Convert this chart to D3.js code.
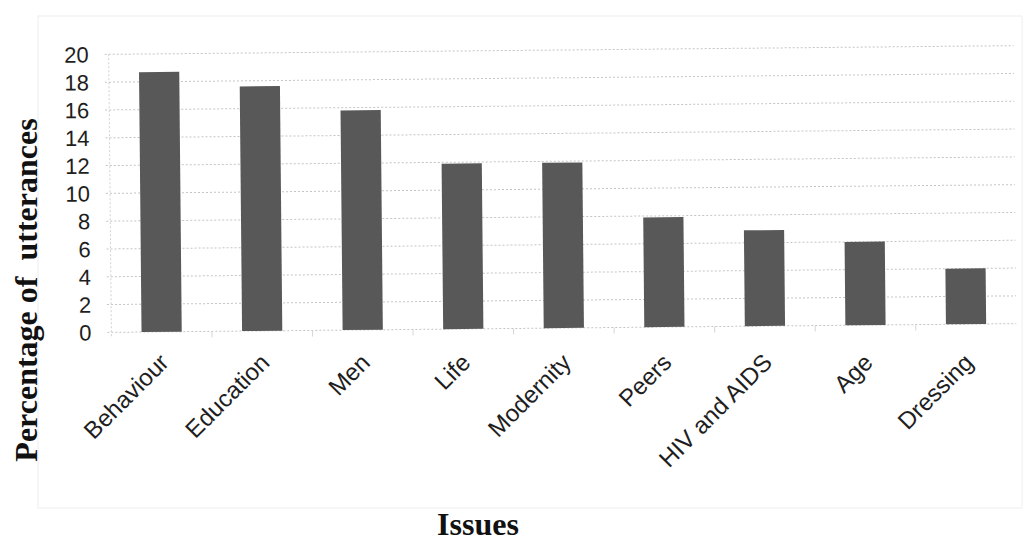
<!DOCTYPE html>
<html>
<head>
<meta charset="utf-8">
<script src="https://cdn.jsdelivr.net/npm/d3@7"></script>
<style>
  html, body { margin: 0; padding: 0; background: #fff; }
  svg { display: block; }
</style>
</head>
<body>
<svg id="chart" width="1030" height="549"></svg>
<script>
// Share of utterances by issue
const issues = ["Behaviour", "Education", "Men", "Life", "Modernity", "Peers", "HIV and AIDS", "Age", "Dressing"];
const percentages = [18.7, 17.6, 15.8, 11.9, 11.9, 7.9, 6.9, 6.0, 4.0];
const yTicks = [0, 2, 4, 6, 8, 10, 12, 14, 16, 18, 20];

const svg = d3.select("#chart");
const W = 1030, H = 549;
const plot = { left: 110, right: 1015, top: 50, bottom: 328 };

svg.append("rect").attr("width", W).attr("height", H).attr("fill", "#fff");

// faint chart-area frame
svg.append("rect")
  .attr("x", 38).attr("y", 16).attr("width", 984).attr("height", 492)
  .attr("fill", "none").attr("stroke", "#eeeeee").attr("stroke-width", 1);

const x = d3.scaleBand().domain(issues).range([plot.left, plot.right]).paddingInner(0.6).paddingOuter(0.3);
const y = d3.scaleLinear().domain([0, 20]).range([plot.bottom, plot.top]);

// the plot sits slightly askew on the page
const g = svg.append("g")
  .attr("transform", `rotate(-0.55, ${(plot.left + plot.right) / 2}, ${(plot.top + plot.bottom) / 2})`);

// horizontal gridlines
g.append("g").selectAll("line").data(yTicks).join("line")
  .attr("x1", plot.left - 4).attr("x2", plot.right)
  .attr("y1", d => y(d)).attr("y2", d => y(d))
  .attr("stroke", "#c4c4c4").attr("stroke-width", 1)
  .attr("stroke-dasharray", "2,2");

// value axis line
g.append("line")
  .attr("x1", plot.left).attr("x2", plot.left)
  .attr("y1", y(20)).attr("y2", y(0) + 5)
  .attr("stroke", "#d0d0d0").attr("stroke-dasharray", "2,2");

// category separators below the baseline
const seps = d3.range(1, issues.length).map(i => plot.left + (plot.right - plot.left) * i / issues.length);
g.append("g").selectAll("line").data(seps).join("line")
  .attr("x1", d => d).attr("x2", d => d)
  .attr("y1", y(0)).attr("y2", y(0) + 6)
  .attr("stroke", "#d6d6d6");

// bars
g.append("g").selectAll("rect").data(issues).join("rect")
  .attr("x", d => x(d))
  .attr("width", x.bandwidth())
  .attr("y", (d, i) => y(percentages[i]))
  .attr("height", (d, i) => y(0) - y(percentages[i]))
  .attr("fill", "#585858");

// value tick labels
g.append("g").selectAll("text").data(yTicks).join("text")
  .attr("x", 90).attr("y", d => y(d)).attr("dy", "0.36em")
  .attr("text-anchor", "end")
  .attr("font-family", "'Liberation Sans', Arial, sans-serif")
  .attr("font-size", 22).attr("fill", "#1e1e1e")
  .text(d => d);

// category labels
svg.append("g").selectAll("text").data(issues).join("text")
  .attr("transform", d => `translate(${x(d) + x.bandwidth() / 2 + 10}, 364) rotate(-45)`)
  .attr("text-anchor", "end")
  .attr("font-family", "'Liberation Sans', Arial, sans-serif")
  .attr("font-size", 24).attr("fill", "#1e1e1e")
  .text(d => d);

// axis titles
svg.append("text")
  .attr("transform", "translate(37, 290) rotate(-90)")
  .attr("text-anchor", "middle")
  .attr("font-family", "'Liberation Serif', 'Times New Roman', serif")
  .attr("font-weight", "bold").attr("font-size", 32).attr("fill", "#111")
  .attr("xml:space", "preserve")
  .text("Percentage of  utterances");

svg.append("text")
  .attr("x", 478).attr("y", 535)
  .attr("text-anchor", "middle")
  .attr("font-family", "'Liberation Serif', 'Times New Roman', serif")
  .attr("font-weight", "bold").attr("font-size", 32).attr("fill", "#111")
  .text("Issues");
</script>
</body>
</html>
